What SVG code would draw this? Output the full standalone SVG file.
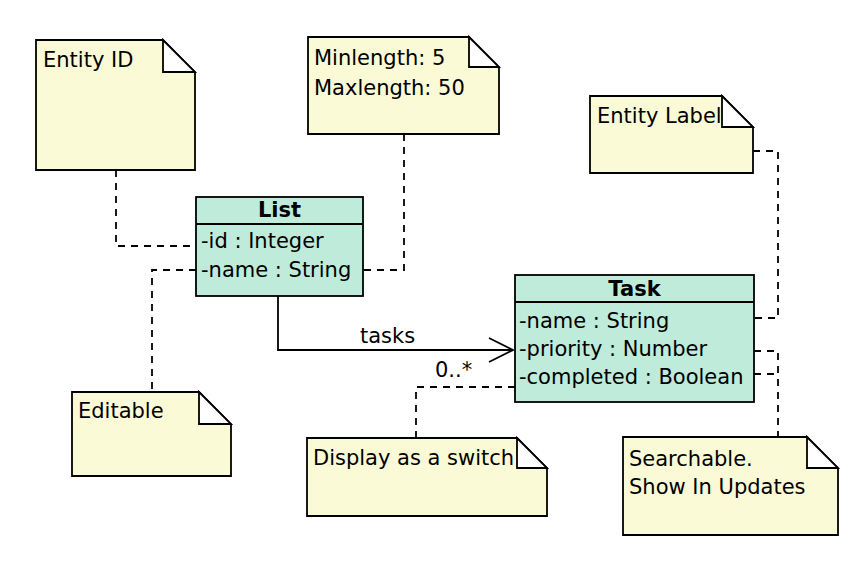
<svg xmlns="http://www.w3.org/2000/svg" width="868" height="572" viewBox="0 0 868 572">
<style>
text{font-family:"DejaVu Sans",Verdana,sans-serif;font-size:21px;fill:#000}
.b{font-weight:bold;text-anchor:middle}
.note{fill:#FBFAD6;stroke:#000;stroke-width:1.8}
.fold{fill:#fff;stroke:#000;stroke-width:1.8}
.cls{fill:#BEEBDA;stroke:#000;stroke-width:1.8}
.sep{stroke:#000;stroke-width:1.8}
.dash{fill:none;stroke:#000;stroke-width:1.8;stroke-dasharray:7,6}
.solid{fill:none;stroke:#000;stroke-width:1.8}
</style>
<rect width="868" height="572" fill="#fff"/>
<g id="connectors">
<polyline class="dash" points="116,170 116,246 196,246"/>
<polyline class="dash" points="404,134 404,270 363,270"/>
<polyline class="dash" points="196,270 152,270 152,392"/>
<polyline class="dash" points="753,151 778,151 778,318 754,318"/>
<polyline class="dash" points="754,351 778,351 778,437"/>
<polyline class="dash" points="754,374 778,374"/>
<polyline class="dash" points="515,387 416,387 416,438"/>
<polyline class="solid" points="278,296 278,350 513,350"/>
<polyline class="solid" points="489,338 513,350 489,362"/>
<text x="360" y="343">tasks</text>
<text x="435" y="377">0..*</text>
</g>
<g id="note-entity-id">
<path class="note" d="M36,40 H163 L195,72 V170 H36 Z"/>
<path class="fold" d="M163,40 V72 H195 Z"/>
<text x="43" y="67">Entity ID</text>
</g>
<g id="note-length">
<path class="note" d="M308,37 H469 L499,67 V134 H308 Z"/>
<path class="fold" d="M469,37 V67 H499 Z"/>
<text x="314" y="65">Minlength: 5</text>
<text x="314" y="95">Maxlength: 50</text>
</g>
<g id="note-entity-label">
<path class="note" d="M590,96 H722 L753,127 V173 H590 Z"/>
<path class="fold" d="M722,96 V127 H753 Z"/>
<text x="597" y="123">Entity Label</text>
</g>
<g id="note-editable">
<path class="note" d="M72,392 H199 L231,424 V476 H72 Z"/>
<path class="fold" d="M199,392 V424 H231 Z"/>
<text x="78" y="418">Editable</text>
</g>
<g id="note-switch">
<path class="note" d="M307,438 H517 L547,468 V516 H307 Z"/>
<path class="fold" d="M517,438 V468 H547 Z"/>
<text x="313" y="465">Display as a switch</text>
</g>
<g id="note-searchable">
<path class="note" d="M623,437 H807 L838,468 V535 H623 Z"/>
<path class="fold" d="M807,437 V468 H838 Z"/>
<text x="629" y="466">Searchable.</text>
<text x="629" y="494">Show In Updates</text>
</g>
<g id="class-list">
<rect class="cls" x="196" y="197" width="167" height="99"/>
<line class="sep" x1="196" y1="224" x2="363" y2="224"/>
<text class="b" x="279.5" y="217">List</text>
<text x="201" y="248">-id : Integer</text>
<text x="201" y="277">-name : String</text>
</g>
<g id="class-task">
<rect class="cls" x="515" y="275" width="239" height="127"/>
<line class="sep" x1="515" y1="302" x2="754" y2="302"/>
<text class="b" x="634.5" y="296">Task</text>
<text x="519" y="328">-name : String</text>
<text x="519" y="356">-priority : Number</text>
<text x="519" y="384">-completed : Boolean</text>
</g>
</svg>
